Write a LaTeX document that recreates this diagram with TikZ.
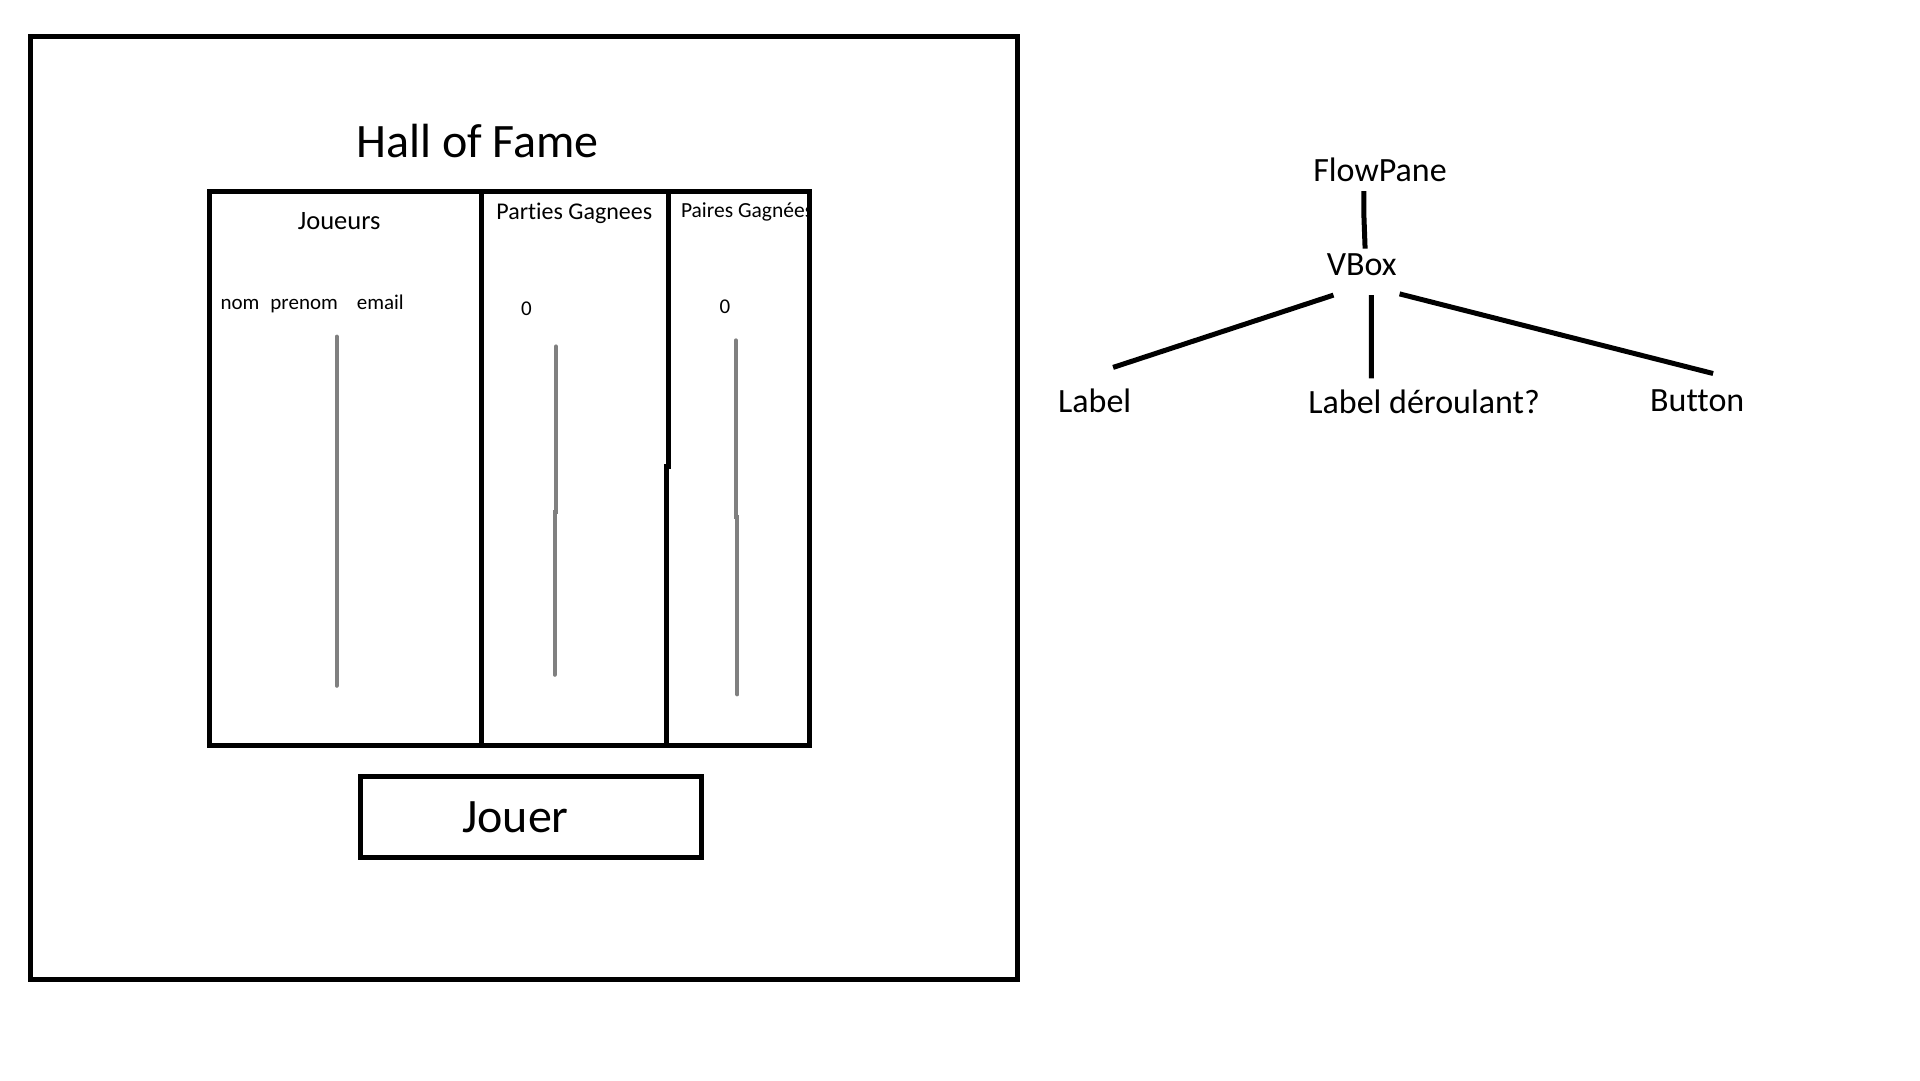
\documentclass[tikz,border=0pt]{standalone}
\usepackage{fontspec}
\setmainfont{Carlito}[Ligatures=NoCommon]
\usetikzlibrary{calc}
\newcommand{\pxfont}[1]{\fontsize{#1}{#1}\selectfont}
\tikzset{
    frame/.style={draw=black, line width=5pt},
    colbar/.style={draw=black!50, line width=4.2pt, line cap=round},
    branch/.style={draw=black, line width=5pt},
    label_txt/.style={inner sep=0pt, text=black},
    button/.style={rectangle, draw=black, line width=5pt, minimum width=341.6pt, minimum height=80.8pt, inner sep=0pt}
}

\begin{document}
\begin{tikzpicture}[x=1pt, y=-1pt]
    \useasboundingbox (0,0) rectangle (1920,1080);

    % --- FENETRE ---
    \draw [frame] (30.6,36.7) rectangle (1017.6,979.6);
    \node (hall_title) [label_txt] at (477.6,141.5) {\pxfont{48}Hall of Fame};

    % --- TABLEAU ---
    \node (col_joueurs) [label_txt] at (339.2,220.8) {\pxfont{26.5}Joueurs};
    \node (col_parties) [label_txt] at (574.3,212.8) {\pxfont{24}Parties Gagnees};
    \begin{scope}
        \clip (667,191) rectangle (809.4,745.7);
        \node (col_paires) [label_txt, anchor=west] at (680.8,211.6) {\pxfont{21.5}Paires Gagnées};
    \end{scope}
    \node (row_joueur) [label_txt, anchor=west] at (220.4,304) {\pxfont{21}nom\hspace{11pt}prenom\hspace{19pt}email};
    \node (val_parties) [label_txt] at (526.5,308.4) {\pxfont{21}0};
    \node (val_paires) [label_txt] at (724.9,307.1) {\pxfont{21}0};

    \draw [frame] (209.4,191) rectangle (809.4,745.7);
    \draw [frame] (481.2,191) -- (481.2,745.7);
    \draw [frame] (668.6,191) -- (668.6,466.5) -- (666.1,466.5) -- (666.1,745.7);

    % barres de defilement
    \draw [colbar] (336.7,336.7) -- (336.7,685.7);
    \draw [colbar] (555.9,346.5) -- (555.9,511.8) -- (554.7,511.8) -- (554.7,674.7);
    \draw [colbar] (735.9,340.4) -- (735.9,516.7) -- (737.2,516.7) -- (737.2,694.3);

    % --- BOUTON ---
    \node (jouer_btn) [button] at (530.8,816.7) {};
    \node (jouer_txt) [label_txt] at (515.5,817.5) {\pxfont{48}Jouer};

    % --- ARBRE ---
    \node (flowpane) [label_txt] at (1380,170.2) {\pxfont{34}FlowPane};
    \node (vbox) [label_txt] at (1361.7,264.5) {\pxfont{34}VBox};
    \node (lbl) [label_txt] at (1094.7,400.4) {\pxfont{34}Label};
    \node (lbl_scroll) [label_txt] at (1424.1,401.6) {\pxfont{34}Label déroulant?};
    \node (btn) [label_txt] at (1697.2,400.4) {\pxfont{34}Button};

    \draw [branch] ($(flowpane)+(-16.1,20.8)$) -- ++(0,24.5) -- ($(vbox)+(3.4,-15.9)$);
    \draw [branch] ($(vbox)+(-28.2,30.6)$) -- ($(lbl)+(18.4,-33)$);
    \draw [branch] ($(vbox)+(9.7,30.6)$) -- ($(lbl_scroll)+(-52.7,-23.2)$);
    \draw [branch] ($(vbox)+(37.9,29.4)$) -- ($(btn)+(15.9,-26.9)$);

\end{tikzpicture}
\end{document}
